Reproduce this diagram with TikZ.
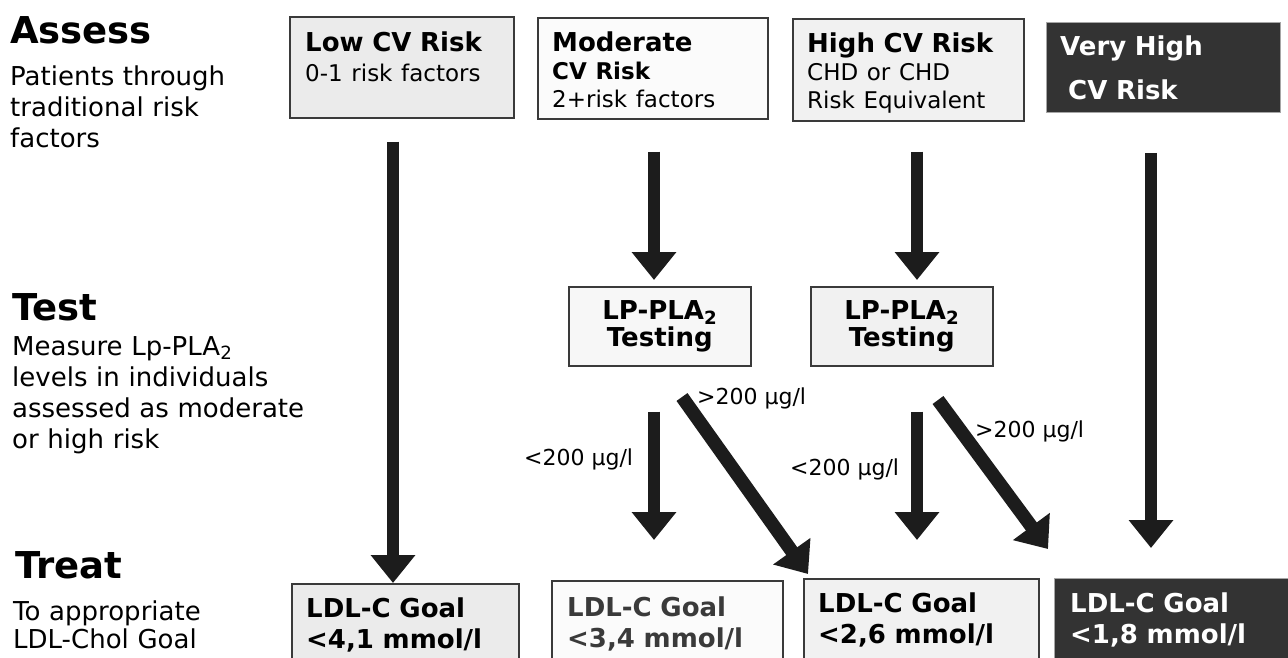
\documentclass[tikz,border=0pt]{standalone}
\usepackage{fontspec}
\setmainfont{DejaVu Sans}
\usetikzlibrary{arrows.meta}
\definecolor{boxline}{HTML}{3A3A3A}
\definecolor{arrowc}{HTML}{1C1C1C}
\definecolor{darkbox}{HTML}{333333}
\definecolor{fillA}{HTML}{EBEBEB}
\definecolor{fillB}{HTML}{FBFBFB}
\definecolor{fillC}{HTML}{F1F1F1}
\definecolor{fillD}{HTML}{F7F7F7}
\definecolor{greytext}{HTML}{3A3A3A}
\begin{document}
\begin{tikzpicture}[x=1pt,y=-1pt,
  box/.style={draw=boxline, line width=1.6pt, anchor=north west, inner sep=0pt},
  darkbx/.style={fill=darkbox, draw=gray!70, line width=0.8pt, anchor=north west, inner sep=0pt},
  hdr/.style={anchor=base west, inner sep=0pt, font=\fontsize{37}{40}\selectfont\bfseries},
  side/.style={anchor=base west, inner sep=0pt, text width=330pt, align=left, font=\fontsize{26}{31}\selectfont},
  btxt/.style={anchor=base west, inner sep=0pt, text width=225pt, align=left},
  lab/.style={anchor=base west, inner sep=0pt, font=\fontsize{22}{24}\selectfont},
  bigarrow/.style={draw=arrowc, line width=12pt, -{Triangle[width=43pt,length=28pt]}},
  diagarrow/.style={draw=arrowc, line width=13.5pt, -{Triangle[width=44pt,length=28pt]}},
]
\clip (0,0) rectangle (1288,657);
\fill[white] (0,0) rectangle (1288,657);

% left column
\node[hdr] (assess) at (10,43) {Assess};
\node[side] (assessd) at (10,85) {Patients through\\traditional risk\\factors};
\node[hdr] (test) at (12,320) {Test};
\node[side] (testd) at (12,355) {Measure Lp-PLA\textsubscript{2}\\levels in individuals\\assessed as moderate\\or high risk};
\node[hdr] (treat) at (15,578) {Treat};
\node[side, font=\fontsize{26}{28}\selectfont] (treatd) at (13,620) {To appropriate\\LDL-Chol Goal};

% top row
\node[box, fill=fillA, minimum width=224pt, minimum height=101pt] (low) at (289,16) {};
\node[box, fill=fillB, minimum width=230pt, minimum height=101pt] (mod) at (537,17) {};
\node[box, fill=fillC, minimum width=231pt, minimum height=102pt] (high) at (792,18) {};
\node[darkbx, minimum width=234pt, minimum height=90pt] (vhigh) at (1046,22) {};

\node[btxt, font=\fontsize{26}{30}\selectfont] (lowt) at (305,51)
  {\textbf{Low CV Risk}\\{\fontsize{23}{30}\selectfont 0-1 risk factors}};
\node[btxt, font=\fontsize{26}{28}\selectfont] (modt) at (552,51)
  {\textbf{Moderate}\\{\fontsize{23}{28}\selectfont\bfseries CV Risk}\\{\fontsize{23}{28}\selectfont 2+risk factors}};
\node[btxt, font=\fontsize{26}{28}\selectfont] (hight) at (807,52)
  {\textbf{High CV Risk}\\{\fontsize{23}{28}\selectfont CHD or CHD}\\{\fontsize{23}{28}\selectfont Risk Equivalent}};
\node[btxt, font=\fontsize{26}{44}\selectfont\bfseries, text=white] (vht) at (1060,55)
  {Very High\\\hspace*{8pt}CV Risk};

% test row
\node[box, fill=fillD, minimum width=182pt, minimum height=79pt, align=center,
      font=\fontsize{26}{27}\selectfont\bfseries] (t1) at (568,286) {LP-PLA\textsubscript{2}\\Testing};
\node[box, fill=fillC, minimum width=182pt, minimum height=79pt, align=center,
      font=\fontsize{26}{27}\selectfont\bfseries] (t2) at (810,286) {LP-PLA\textsubscript{2}\\Testing};

% goal row
\node[box, fill=fillA, minimum width=227pt, minimum height=100pt] (g1) at (291,583) {};
\node[box, fill=fillB, minimum width=231pt, minimum height=100pt] (g2) at (551,580) {};
\node[box, fill=fillC, minimum width=235pt, minimum height=100pt] (g3) at (803,578) {};
\node[darkbx, minimum width=240pt, minimum height=100pt] (g4) at (1054,578) {};

\node[btxt, font=\fontsize{26}{31}\selectfont\bfseries] (g1t) at (306,617) {LDL-C Goal\\<4,1 mmol/l};
\node[btxt, font=\fontsize{26}{31}\selectfont\bfseries, text=greytext] (g2t) at (567,616) {LDL-C Goal\\<3,4 mmol/l};
\node[btxt, font=\fontsize{26}{31}\selectfont\bfseries] (g3t) at (818,612) {LDL-C Goal\\<2,6 mmol/l};
\node[btxt, font=\fontsize{26}{31}\selectfont\bfseries, text=white] (g4t) at (1070,612) {LDL-C Goal\\<1,8 mmol/l};

% labels
\node[lab] (l1) at (697,404) {>200 µg/l};
\node[lab] (l2) at (524,465) {<200 µg/l};
\node[lab] (l3) at (790,475) {<200 µg/l};
\node[lab] (l4) at (975,437) {>200 µg/l};

% arrows
\coordinate (c1) at (393,0);
\coordinate (c2) at (654,0);
\coordinate (c3) at (917,0);
\coordinate (c4) at (1151,0);
\coordinate (d1s) at (682,397);
\coordinate (d1e) at (808,574);
\coordinate (d2s) at (938,400);
\coordinate (d2e) at (1048,549);

\draw[bigarrow, shorten <=23pt] (low.south -| c1) -- (g1.north -| c1);
\draw[bigarrow, shorten <=32pt, shorten >=6pt] (mod.south -| c2) -- (t1.north -| c2);
\draw[bigarrow, shorten <=30pt, shorten >=6pt] (high.south -| c3) -- (t2.north -| c3);
\draw[bigarrow, shorten <=40pt, shorten >=30pt] (vhigh.south -| c4) -- (g4.north -| c4);
\draw[bigarrow, shorten <=45pt, shorten >=40pt] (t1.south -| c2) -- (g2.north -| c2);
\draw[bigarrow, shorten <=45pt, shorten >=38pt] (t2.south -| c3) -- (g3.north -| c3);
\draw[diagarrow] (d1s) -- (d1e);
\draw[diagarrow] (d2s) -- (d2e);
\end{tikzpicture}
\end{document}
